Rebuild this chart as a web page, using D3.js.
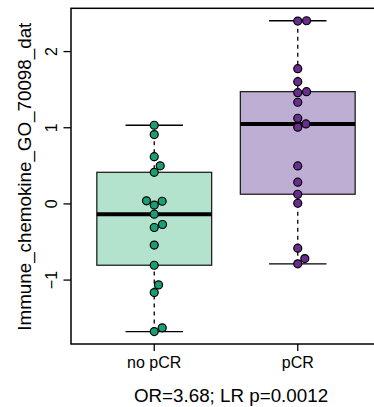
<!DOCTYPE html>
<html><head><meta charset="utf-8">
<script src="https://cdn.jsdelivr.net/npm/d3@7"></script>
<style>body{margin:0;background:#fff}svg{display:block;font-family:"Liberation Sans",Arial,Helvetica,sans-serif}</style>
</head><body><div id="chart"></div>
<script>
const categories = ["no pCR", "pCR"];
const noPCR = [1.033, 0.91, 0.62, 0.50, 0.415, 0.04, 0.035, -0.015, -0.135, -0.27, -0.31, -0.54, -0.805, -1.063, -1.164, -1.627, -1.676];
const pCR = [2.405, 2.40, 1.776, 1.605, 1.474, 1.46, 1.335, 1.125, 1.05, 1.007, 0.499, 0.285, 0.127, 0.009, -0.581, -0.718, -0.787];
const yTicks = [-1, 0, 1, 2];
const yLabel = "Immune_chemokine_GO_70098_dat";
const subtitle = "OR=3.68; LR p=0.0012";
const boxFills = ["#b3e2cd", "#beaed4"];
const pointFills = ["#1b9e77", "#6a2c8e"];

(function () {
const W = 374, H = 407;
const svg = d3.select("#chart").append("svg").attr("width", W).attr("height", H);
const groups = [noPCR, pCR];
const all = noPCR.concat(pCR);
const ext = d3.extent(all), pad = (ext[1] - ext[0]) * 0.04;
const pLeft = 71, pTop = 8.3, pBottom = 344;
const x = d3.scaleLinear().domain([0.42, 2.58]).range([pLeft, 381]);
const y = d3.scaleLinear().domain([ext[0] - pad, ext[1] + pad]).range([pBottom, pTop]);

function hinges(v) {
  const s = v.slice().sort(d3.ascending), n = s.length;
  const n4 = Math.floor((n + 3) / 2) / 2;
  const q = k => 0.5 * (s[Math.floor(k) - 1] + s[Math.ceil(k) - 1]);
  return [s[0], q(n4), q((n + 1) / 2), q(n + 1 - n4), s[n - 1]];
}

const halfBox = 0.4, halfCap = 0.2;
groups.forEach((vals, i) => {
  const cx = i + 1;
  const f = hinges(vals);
  const g = svg.append("g");
  g.append("line").attr("x1", x(cx)).attr("x2", x(cx)).attr("y1", y(f[0])).attr("y2", y(f[1]))
    .attr("stroke", "#000").attr("stroke-width", 1.3).attr("stroke-dasharray", "4,4");
  g.append("line").attr("x1", x(cx)).attr("x2", x(cx)).attr("y1", y(f[4])).attr("y2", y(f[3]))
    .attr("stroke", "#000").attr("stroke-width", 1.3).attr("stroke-dasharray", "4,4");
  [f[0], f[4]].forEach(v => g.append("line").attr("x1", x(cx - halfCap)).attr("x2", x(cx + halfCap))
    .attr("y1", y(v)).attr("y2", y(v)).attr("stroke", "#000").attr("stroke-width", 1.3));
  g.append("rect").attr("x", x(cx - halfBox)).attr("width", x(cx + halfBox) - x(cx - halfBox))
    .attr("y", y(f[3])).attr("height", y(f[1]) - y(f[3]))
    .attr("fill", boxFills[i]).attr("stroke", "#222").attr("stroke-width", 1.3);
  g.append("line").attr("x1", x(cx - halfBox)).attr("x2", x(cx + halfBox))
    .attr("y1", y(f[2])).attr("y2", y(f[2])).attr("stroke", "#000").attr("stroke-width", 4);

  const d = 8.8;
  const order = vals.map((v, k) => k).sort((a, b) => vals[a] - vals[b]);
  const placed = [];
  order.forEach(k => {
    const py = y(vals[k]);
    const cands = [0];
    placed.forEach(p => {
      const dy = Math.abs(p.y - py);
      if (dy < d) { const dx = Math.sqrt(d * d - dy * dy); cands.push(p.dx + dx + 0.01, p.dx - dx - 0.01); }
    });
    cands.sort((a, b) => Math.abs(a) - Math.abs(b) || b - a);
    const ok = cands.find(c => placed.every(p => (p.dx - c) ** 2 + (p.y - py) ** 2 >= d * d - 0.01));
    placed.push({dx: ok, y: py});
  });
  g.selectAll("circle").data(placed).join("circle")
    .attr("cx", p => x(cx) + p.dx).attr("cy", p => p.y).attr("r", 4)
    .attr("fill", pointFills[i]).attr("stroke", "#000").attr("stroke-width", 1.2);
});

svg.append("rect").attr("x", pLeft).attr("y", pTop).attr("width", x(2.58) - pLeft).attr("height", pBottom - pTop)
  .attr("fill", "none").attr("stroke", "#000").attr("stroke-width", 1.5);

const ya = svg.append("g");
yTicks.forEach(t => {
  ya.append("line").attr("x1", pLeft - 7.5).attr("x2", pLeft).attr("y1", y(t)).attr("y2", y(t)).attr("stroke", "#000").attr("stroke-width", 1.3);
  ya.append("text").attr("transform", `translate(56.5,${y(t)}) rotate(-90)`).attr("text-anchor", "middle")
    .attr("font-size", 16).text(t < 0 ? "\u2212" + Math.abs(t) : t);
});
categories.forEach((c, i) => {
  svg.append("line").attr("x1", x(i + 1)).attr("x2", x(i + 1)).attr("y1", pBottom).attr("y2", pBottom + 7)
    .attr("stroke", "#000").attr("stroke-width", 1.3);
  svg.append("text").attr("x", x(i + 1)).attr("y", 368).attr("text-anchor", "middle").attr("font-size", 16).text(c);
});
svg.append("text").attr("transform", `translate(30.5,${(21.7 + 331.7) / 2}) rotate(-90)`).attr("text-anchor", "middle")
  .attr("font-size", 18.8).text(yLabel);
svg.append("text").attr("x", 231).attr("y", 402).attr("text-anchor", "middle").attr("font-size", 18.8).text(subtitle);
})();
</script></body></html>
